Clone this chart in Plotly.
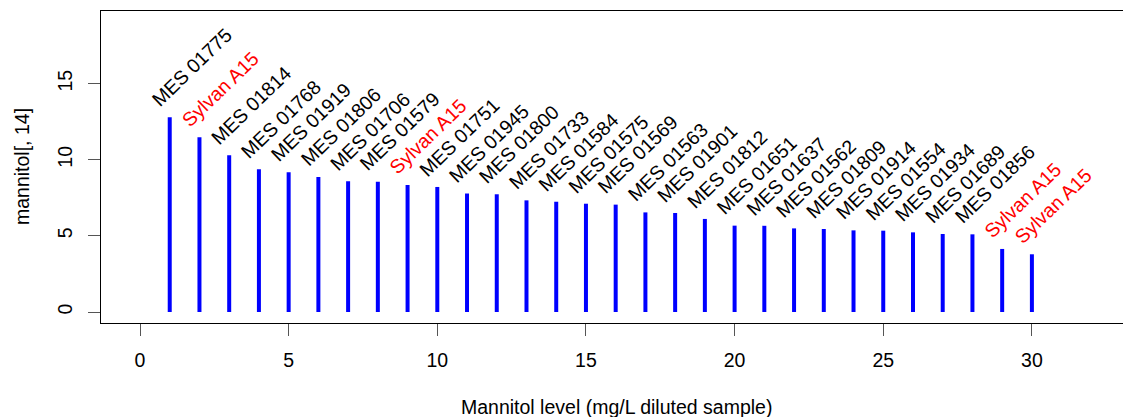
import plotly.graph_objects as go

# ---- data ----
positions = list(range(1, 31))
mannitol = [12.78, 11.47, 10.29, 9.37, 9.17, 8.86, 8.58, 8.56, 8.34, 8.21,
            7.78, 7.73, 7.33, 7.24, 7.11, 7.05, 6.54, 6.50, 6.11, 5.67,
            5.66, 5.49, 5.45, 5.36, 5.34, 5.23, 5.12, 5.10, 4.14, 3.79]
labels = ["MES 01775", "Sylvan A15", "MES 01814", "MES 01768", "MES 01919",
          "MES 01806", "MES 01706", "MES 01579", "Sylvan A15", "MES 01751",
          "MES 01945", "MES 01800", "MES 01733", "MES 01584", "MES 01575",
          "MES 01569", "MES 01563", "MES 01901", "MES 01812", "MES 01651",
          "MES 01637", "MES 01562", "MES 01809", "MES 01914", "MES 01554",
          "MES 01934", "MES 01689", "MES 01856", "Sylvan A15", "Sylvan A15"]
x_ticks = [0, 5, 10, 15, 20, 25, 30]
y_ticks = [0, 5, 10, 15]

FONT = "Liberation Sans, Arial, sans-serif"
FS = 19.5

# build vertical "h"-type lines
xs, ys = [], []
for x, y in zip(positions, mannitol):
    xs += [x, x, None]
    ys += [0, y, None]

fig = go.Figure()
fig.add_trace(go.Scatter(x=xs, y=ys, mode="lines",
                         line=dict(color="#0000FF", width=4),
                         hoverinfo="skip", showlegend=False))

for x, y, lab in zip(positions, mannitol, labels):
    col = "#FF0000" if lab.startswith("Sylvan") else "#000000"
    fig.add_annotation(x=x, y=y, xref="x", yref="y", text=lab,
                       showarrow=False, textangle=-44,
                       xanchor="left", yanchor="bottom",
                       xshift=-25, yshift=4,
                       font=dict(family=FONT, size=FS, color=col))

# axis titles
fig.add_annotation(text="Mannitol level (mg/L diluted sample)",
                   xref="paper", yref="paper", x=(616 - 101) / 1022, y=-0.269,
                   xanchor="center", yanchor="middle", showarrow=False,
                   font=dict(family=FONT, size=FS, color="#000000"))
fig.add_annotation(text="mannitol[, 14]", textangle=-90,
                   xref="paper", yref="paper", x=(22 - 101) / 1022, y=0.5,
                   xanchor="center", yanchor="middle", showarrow=False,
                   font=dict(family=FONT, size=FS, color="#000000"))

fig.update_layout(
    width=1123, height=417,
    margin=dict(l=101, r=0, t=11, b=94),
    paper_bgcolor="white", plot_bgcolor="white",
    font=dict(family=FONT, size=FS, color="#000000"),
    xaxis=dict(range=[(101 - 140) / 29.73, (1123 - 140) / 29.73],
               tickvals=x_ticks, ticktext=[str(v) for v in x_ticks],
               showgrid=False, zeroline=False,
               showline=True, mirror=True, linecolor="#000000", linewidth=1,
               ticks="outside", ticklen=12, tickcolor="#555555", tickwidth=1,
               ticklabelstandoff=8),
    yaxis=dict(range=[(312 - 323) / 15.23, (312 - 11) / 15.23],
               tickvals=y_ticks, ticktext=[str(v) for v in y_ticks],
               tickangle=-90,
               showgrid=False, zeroline=False,
               showline=True, mirror=False, linecolor="#000000", linewidth=1,
               ticks="outside", ticklen=12, tickcolor="#555555", tickwidth=1,
               ticklabelstandoff=8),
)

fig.write_html("out.html")
